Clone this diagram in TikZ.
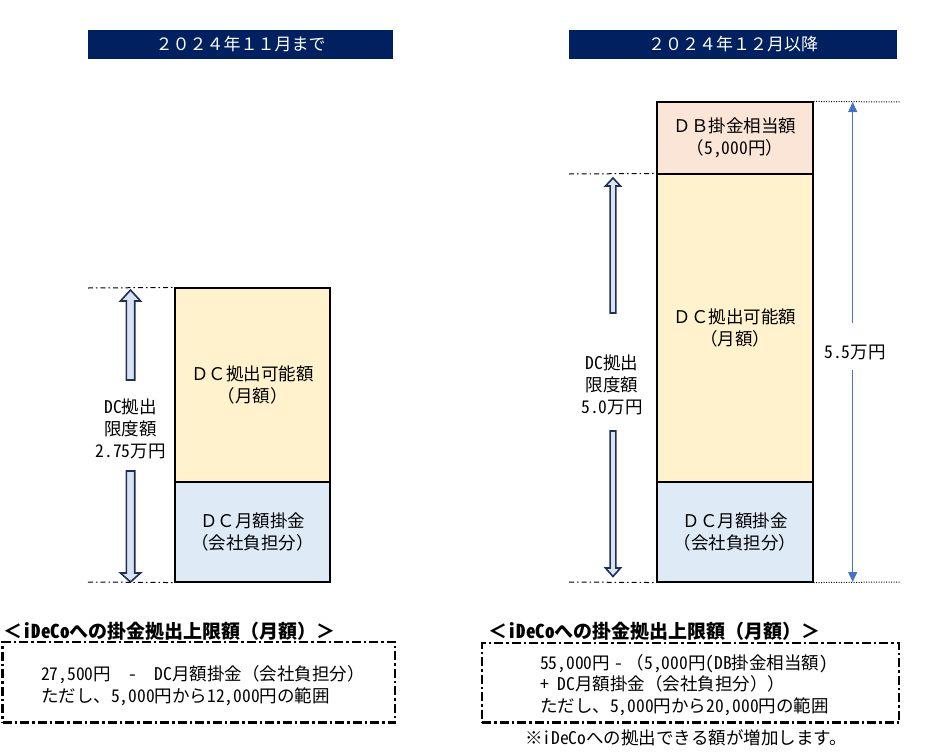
\documentclass[tikz,border=0pt]{standalone}
\usepackage{fontspec}
\setmainfont{Noto Sans CJK JP}
\newfontfamily\hwf{Noto Sans CJK JP}[RawFeature=+hwid]
\newcommand\hn[1]{{\hwf #1}}
\usetikzlibrary{arrows.meta}
\definecolor{navy}{HTML}{002060}
\definecolor{ylw}{HTML}{FFF2CC}
\definecolor{blu}{HTML}{DEEBF7}
\definecolor{pnk}{HTML}{FBE5D6}
\definecolor{arrfill}{HTML}{DAE3F3}
\definecolor{arrdraw}{HTML}{1F2F55}
\definecolor{thinblue}{HTML}{4472C4}
\begin{document}
\begin{tikzpicture}[x=1pt,y=-1pt,
  bar/.style={fill=navy, text=white, inner sep=0pt, font=\fontsize{17}{20}\selectfont},
  blk/.style={draw=black, line width=1.1pt, inner sep=0pt, align=center, font=\fontsize{17.5}{21.7}\selectfont},
  lbl/.style={align=center, inner sep=0pt, font=\fontsize{17.5}{21.7}\selectfont},
  dd/.style={line width=1pt, dash pattern=on 5pt off 3pt on 1.5pt off 3pt},
  dt/.style={line width=1pt, dash pattern=on 1pt off 1.5pt},
  barrow/.style={fill=arrfill, draw=arrdraw, line width=1.6pt, line join=miter},
  thinarr/.style={draw=thinblue, line width=0.9pt, -{Triangle[width=9pt,length=10pt]}},
  frame/.style={draw=black, line width=2.5pt, dash pattern=on 9pt off 3pt on 2.5pt off 3pt},
  txt/.style={align=left, inner sep=0pt, anchor=west, font=\fontsize{17.5}{21.7}\selectfont},
  hdr/.style={inner sep=0pt, anchor=west, font=\bfseries\fontsize{19}{22}\selectfont}]
\useasboundingbox (0,0) rectangle (948,755);

% title bars
\node[bar, minimum width=305pt, minimum height=29pt] (t1) at (240.5,44.5) {２０２４年１１月まで};
\node[bar, minimum width=328pt, minimum height=29pt] (t2) at (733,44.5) {２０２４年１２月以降};

% left stack
\node[blk, fill=ylw, minimum width=155pt, minimum height=194pt] (ly) at (252.5,385) {ＤＣ拠出可能額\\（月額）};
\node[blk, fill=blu, minimum width=155pt, minimum height=100pt] (lb) at (252.5,532) {ＤＣ月額掛金\\（会社負担分）};

% right stack
\node[blk, fill=pnk, minimum width=156pt, minimum height=72pt] (rp) at (735,138) {ＤＢ掛金相当額\\（\hn{5,000}円）};
\node[blk, fill=ylw, minimum width=156pt, minimum height=308pt] (ry) at (735,328) {ＤＣ拠出可能額\\（月額）};
\node[blk, fill=blu, minimum width=156pt, minimum height=100pt] (rb) at (735,532) {ＤＣ月額掛金\\（会社負担分）};

% guide lines
\coordinate (lt) at (88,288);
\coordinate (lbt) at (88,582);
\draw[dd] (lt) -- (ly.north west);
\draw[dd] (lbt) -- (lb.south west);
\coordinate (rt) at (569,174);
\coordinate (rbt) at (569,582);
\draw[dd] (rt) -- (ry.north west);
\draw[dd] (rbt) -- (rb.south west);
\coordinate (pt1) at (900,102);
\coordinate (pt2) at (900,582);
\draw[dt] (rp.north east) -- (pt1);
\draw[dt] (rb.south east) -- (pt2);

% left labels and block arrows
\node[lbl] (ll) at (130.5,429) {\hn{DC}拠出\\限度額\\\hn{2.75}万円};
\draw[barrow] (130.5,290) -- (140.5,301) -- (134.7,301) -- (134.7,380) -- (126.3,380) -- (126.3,301) -- (120.5,301) -- cycle;
\draw[barrow] (126.3,471) -- (134.7,471) -- (134.7,573) -- (140.5,573) -- (130.5,582) -- (120.5,573) -- (126.3,573) -- cycle;

% right labels and block arrows
\node[lbl] (rl) at (612,385) {\hn{DC}拠出\\限度額\\\hn{5.0}万円};
\draw[barrow] (613,178) -- (620.5,186) -- (615.9,186) -- (615.9,313) -- (610.1,313) -- (610.1,186) -- (605.5,186) -- cycle;
\draw[barrow] (610.1,431) -- (615.9,431) -- (615.9,568) -- (620.5,568) -- (613,576.5) -- (605.5,568) -- (610.1,568) -- cycle;

% 5.5 arrow
\node[lbl] (n55) at (855,352) {\hn{5.5}万円};
\coordinate (a1) at (852.7,323);
\coordinate (a2) at (852.7,370);
\coordinate (atop) at (852.7,102);
\coordinate (abot) at (852.7,582);
\draw[thinarr] (a1) -- (atop);
\draw[thinarr] (a2) -- (abot);

% bottom left
\node[hdr] (h1) at (3,631) {＜\hn{iDeCo}への掛金拠出上限額（月額）＞};
\node[frame, minimum width=392.5pt, minimum height=80.5pt, inner sep=0pt] (f1) at (198.75,682.25) {};
\node[txt] (x1) at (41,686) {\hn{27,500}円\hspace{1em}\hn{-}\hspace{1em}\hn{DC}月額掛金（会社負担分）\\ただし、\hn{5,000}円から\hn{12,000}円の範囲};

% bottom right
\node[hdr] (h2) at (488,631) {＜\hn{iDeCo}への掛金拠出上限額（月額）＞};
\node[frame, minimum width=417pt, minimum height=79.5pt, inner sep=0pt] (f2) at (690.5,682.75) {};
\node[txt] (x2) at (540,685) {\hn{55,000}円 \hn{-} （\hn{5,000}円\hn{(DB}掛金相当額\hn{)}\\\hn{+ DC}月額掛金（会社負担分））\\ただし、\hn{5,000}円から\hn{20,000}円の範囲};
\node[txt] (fn) at (525,738) {※\hn{iDeCo}への拠出できる額が増加します。};
\end{tikzpicture}
\end{document}
